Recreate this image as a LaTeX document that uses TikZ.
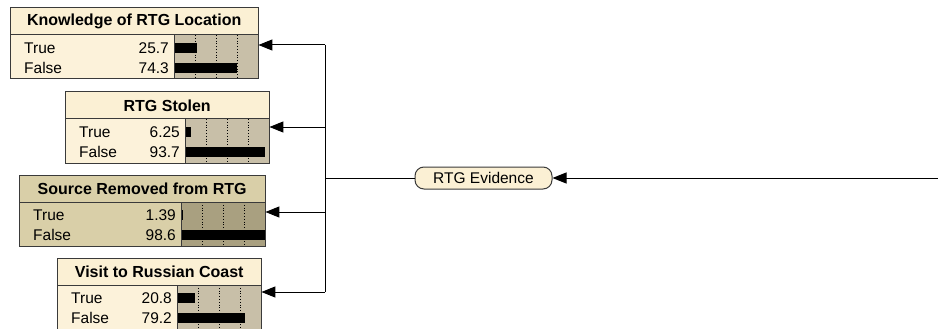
\documentclass[tikz,border=0pt]{standalone}
\usepackage{fontspec}
\setmainfont{Liberation Sans}
\usetikzlibrary{arrows.meta}

\definecolor{normalttl}{HTML}{FBF0D4}
\definecolor{normaldat}{HTML}{FCF2DA}
\definecolor{normalbar}{HTML}{C8BFA8}
\definecolor{darkttl}{HTML}{D9CFA8}
\definecolor{darkdat}{HTML}{D9CFA8}
\definecolor{darkbar}{HTML}{A9A080}
\definecolor{framegray}{HTML}{3A3A3A}

\tikzset{
  frame/.style={draw=framegray, line width=1pt},
  ttl/.style={inner sep=0pt, minimum height=27, font=\fontsize{16}{19}\selectfont\bfseries},
  dat/.style={inner sep=0pt, minimum height=44},
  lbl/.style={inner sep=0pt, font=\fontsize{15.5}{18}\selectfont},
  tick/.style={draw=black, line width=0.8pt, dotted},
  bar/.style={fill=black},
  link/.style={draw=black, line width=1pt},
  arr/.style={link, -{Triangle[length=14pt,width=11pt]}},
  evid/.style={draw=framegray, line width=1pt, fill=normalttl, rounded corners=9,
    minimum width=137, minimum height=22, inner sep=0pt, font=\fontsize{15.5}{18}\selectfont}
}

% #1 name, #2 left, #3 right, #4 top, #5 title, #6 true %, #7 false %, #8 colour set
\newcommand\chancenode[8]{%
  \node[ttl, fill=#8ttl, minimum width={#3-#2}, anchor=north west] (#1-t) at (#2,#4) {#5};
  \node[dat, fill=#8dat, minimum width={#3-#2}, anchor=north west] (#1) at (#2,#4+27) {};
  \fill[#8bar] (#3-84,#4+27) rectangle (#3,#4+71);
  \foreach \k in {21,42,63} \draw[tick] (#3-84+\k,#4+27) -- (#3-84+\k,#4+71);
  \fill[bar] (#3-83,#4+35) rectangle ({#3-83+#6*0.84},#4+45);
  \fill[bar] (#3-83,#4+55) rectangle ({#3-83+#7*0.84},#4+65);
  \node[lbl, anchor=base west] at (#2+14,#4+45.5) {True};
  \node[lbl, anchor=base west] at (#2+14,#4+65.5) {False};
  \node[lbl, anchor=base east] at (#3-89,#4+45.5) {#6};
  \node[lbl, anchor=base east] at (#3-89,#4+65.5) {#7};
  \draw[frame] (#2,#4+27) -- (#3,#4+27);
  \draw[frame] (#3-84,#4+27) -- (#3-84,#4+71);
  \draw[frame] (#2,#4) rectangle (#3,#4+71);
}

\begin{document}
\begin{tikzpicture}[x=1pt, y=-1pt]
  \useasboundingbox (0,0) rectangle (938,329);

  \chancenode{know}{10}{258}{8}{Knowledge of RTG Location}{25.7}{74.3}{normal}
  \chancenode{stolen}{65}{269}{92}{RTG Stolen}{6.25}{93.7}{normal}
  \chancenode{removed}{19}{265}{175}{Source Removed from RTG}{1.39}{98.6}{dark}
  \chancenode{visit}{57}{261}{258}{Visit to Russian Coast}{20.8}{79.2}{normal}

  \node[evid] (ev) at (483.5,178) {RTG Evidence};

  % bus carrying the evidence to each chance node
  \coordinate (j1) at (325,45);
  \coordinate (j2) at (325,127);
  \coordinate (j3) at (325,212);
  \coordinate (j4) at (325,292);
  \coordinate (src) at (938,178);

  \draw[link] (j1) -- (j4);
  \draw[link] (ev.west) -- (ev.west -| j1);
  \draw[arr] (src) -- (ev.east);
  \draw[arr] (j1) -- (know.east |- j1);
  \draw[arr] (j2) -- (stolen.east |- j2);
  \draw[arr] (j3) -- (removed.east |- j3);
  \draw[arr] (j4) -- (visit.east |- j4);
\end{tikzpicture}
\end{document}
